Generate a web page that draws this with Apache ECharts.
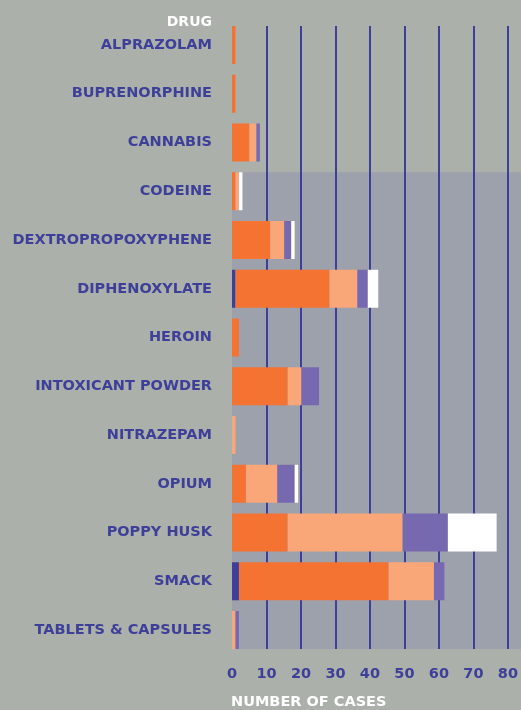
<!DOCTYPE html>
<html>
    <head>
        <meta charset='utf-8'>
        <script src='https://cdn.jsdelivr.net/npm/echarts@6.0.0/dist/echarts.min.js'></script>
    </head>
    <body style="margin:0">
        <style>
            html, body, #main {
                width: 521px;
                height: 710px;
                margin: 0;
            }
        </style>
        <div id='main'></div>
        <script>
            var drugs = ['ALPRAZOLAM', 'BUPRENORPHINE', 'CANNABIS', 'CODEINE', 'DEXTROPROPOXYPHENE',
                'DIPHENOXYLATE', 'HEROIN', 'INTOXICANT POWDER', 'NITRAZEPAM', 'OPIUM',
                'POPPY HUSK', 'SMACK', 'TABLETS & CAPSULES'];
            // stacked segments, left to right
            var groupA = [0, 0, 0, 0, 0, 1, 0, 0, 0, 0, 0, 2, 0];
            var groupB = [1, 1, 5, 1, 11, 27, 2, 16, 0, 4, 16, 43, 0];
            var groupC = [0, 0, 2, 1, 4, 8, 0, 4, 1, 9, 33, 13, 1];
            var groupD = [0, 0, 1, 0, 2, 3, 0, 5, 0, 5, 13, 3, 1];
            var groupE = [0, 0, 0, 1, 1, 3, 0, 0, 0, 1, 14, 0, 0];
            var xMax = 83;
            var xStep = 10;

            var font = 'DejaVu Sans';
            var ink = '#3d3f98';
            var barW = 38;

            var chart = echarts.init(document.getElementById('main'));

            function seg(name, data, color) {
                return {
                    name: name,
                    type: 'bar',
                    stack: 'total',
                    xAxisIndex: 1,
                    yAxisIndex: 1,
                    barWidth: barW,
                    data: data,
                    itemStyle: { color: color },
                    emphasis: { disabled: true }
                };
            }

            chart.setOption({
                backgroundColor: '#abb0ab',
                animation: false,
                title: [{
                    text: 'DRUG',
                    right: 309,
                    top: 15,
                    padding: 0,
                    textStyle: { color: '#ffffff', fontFamily: font, fontWeight: 'bold', fontSize: 14 }
                }, {
                    text: 'NUMBER OF CASES',
                    left: 231,
                    top: 695,
                    padding: 0,
                    textStyle: { color: '#ffffff', fontFamily: font, fontWeight: 'bold', fontSize: 14.5 }
                }],
                grid: [
                    // grid lines only: span from first bar top to last bar bottom
                    { left: 232, right: 0, top: 26, bottom: 61 },
                    // bars
                    { left: 232, right: 0, top: 20.6, bottom: 55.6 }
                ],
                xAxis: [{
                    gridIndex: 0,
                    type: 'value',
                    min: 0,
                    max: xMax,
                    interval: xStep,
                    axisLine: { show: false },
                    axisTick: { show: false },
                    splitLine: { show: true, showMinLine: false, showMaxLine: false, lineStyle: { color: ink, width: 2 } },
                    axisLabel: {
                        showMaxLabel: false,
                        margin: 18,
                        color: ink,
                        fontFamily: font,
                        fontWeight: 'bold',
                        fontSize: 14.5
                    }
                }, {
                    gridIndex: 1,
                    type: 'value',
                    min: 0,
                    max: xMax,
                    show: false,
                    splitLine: { show: false }
                }],
                yAxis: [{
                    gridIndex: 0,
                    type: 'category',
                    data: drugs,
                    show: false
                }, {
                    gridIndex: 1,
                    type: 'category',
                    data: drugs,
                    inverse: true,
                    axisLine: { show: false },
                    axisTick: { show: false },
                    splitLine: { show: false },
                    axisLabel: {
                        margin: 20,
                        color: ink,
                        fontFamily: font,
                        fontWeight: 'bold',
                        fontSize: 14.5
                    }
                }],
                series: [
                    seg('A', groupA, '#3d3f98'),
                    seg('B', groupB, '#f47232'),
                    seg('C', groupC, '#f9a679'),
                    seg('D', groupD, '#7669b0'),
                    seg('E', groupE, '#ffffff')
                ]
            });

            // darker panel behind the rows from CODEINE down
            var p0 = chart.convertToPixel({ gridIndex: 1 }, [0, 'CODEINE']);
            var p1 = chart.convertToPixel({ gridIndex: 1 }, [0, 'TABLETS & CAPSULES']);
            var panelTop = p0[1] - barW / 2;
            var panelBottom = p1[1] + barW / 2;
            chart.setOption({
                graphic: [{
                    type: 'rect',
                    z: -10,
                    silent: true,
                    shape: { x: p0[0], y: panelTop, width: chart.getWidth() - p0[0], height: panelBottom - panelTop },
                    style: { fill: '#9da1ab' }
                }]
            });
        </script>
    </body>
</html>
